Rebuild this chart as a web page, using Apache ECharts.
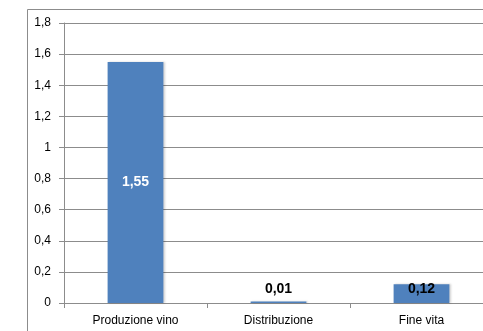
<!DOCTYPE html>
<html>
<head>
<meta charset="utf-8">
<style>
  html, body { margin: 0; padding: 0; background: #fff; }
  #chart { width: 483px; height: 331px; }
</style>
<script src="https://cdn.jsdelivr.net/npm/echarts@6/dist/echarts.min.js"></script>
</head>
<body>
<div id="chart"></div>
<script>
// Phases of the wine life cycle and their values
const categories = ['Produzione vino', 'Distribuzione', 'Fine vita'];
const values = [1.55, 0.01, 0.12];
// Values whose label sits inside the bar (white) rather than above it
const insideLabel = [true, false, false];
// Gap between bar end and its outside label (negative pulls the label onto the bar)
const labelGap = [0, 5, -12];

const fmt = v => String(v).replace('.', ',');

const chart = echarts.init(document.getElementById('chart'), null, { renderer: 'canvas' });

chart.setOption({
  animation: false,
  backgroundColor: '#fff',
  textStyle: { fontFamily: 'Liberation Sans, Arial, sans-serif' },
  graphic: [{
    type: 'rect',
    shape: { x: 27.5, y: 9.5, width: 500, height: 400 },
    style: { fill: 'none', stroke: '#8c8c8c', lineWidth: 1 },
    silent: true,
    z: -1
  }],
  grid: { left: 64, width: 429, top: 23, height: 280, outerBoundsMode: 'none' },
  xAxis: {
    type: 'category',
    data: categories,
    axisLine: { show: true, lineStyle: { color: '#8c8c8c', width: 1 } },
    axisTick: { show: true, alignWithLabel: false, length: 5, lineStyle: { color: '#8c8c8c' } },
    axisLabel: { color: '#000', fontSize: 12, margin: 12 },
    splitLine: { show: false }
  },
  yAxis: {
    type: 'value',
    min: 0,
    max: 1.8,
    interval: 0.2,
    axisLine: { show: true, lineStyle: { color: '#8c8c8c', width: 1 } },
    axisTick: { show: true, length: 5, lineStyle: { color: '#8c8c8c' } },
    axisLabel: {
      color: '#000',
      fontSize: 12,
      margin: 13,
      formatter: v => fmt(Math.round(v * 10) / 10)
    },
    splitLine: { show: true, lineStyle: { color: '#8c8c8c', width: 1 } }
  },
  series: [{
    type: 'bar',
    barWidth: '39%',
    data: values.map((v, i) => ({
      value: v,
      label: insideLabel[i]
        ? { position: 'inside', color: '#fff' }
        : { position: 'top', color: '#000', distance: labelGap[i] }
    })),
    itemStyle: {
      color: '#4f81bd',
      shadowColor: 'rgba(0,0,0,0.18)',
      shadowBlur: 2,
      shadowOffsetX: 1.5,
      shadowOffsetY: 0
    },
    label: {
      show: true,
      fontSize: 14,
      fontWeight: 'bold',
      formatter: p => fmt(p.value)
    }
  }]
});
</script>
</body>
</html>
